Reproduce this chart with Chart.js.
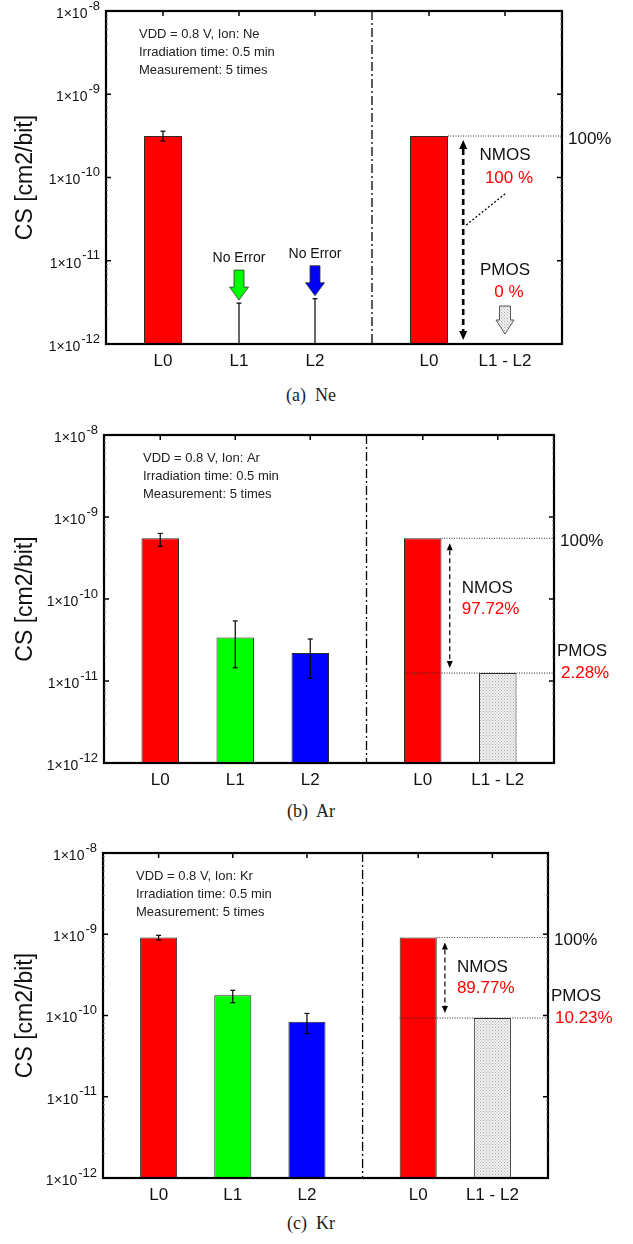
<!DOCTYPE html>
<html>
<head>
<title>CS per layer</title>
<script src="https://cdn.jsdelivr.net/npm/chart.js"></script>
<style>
  body { margin: 0; background: #fff; }
  .page { position: relative; width: 633px; height: 1244px; }
  canvas { position: absolute; left: 0; }
  .caption {
    position: absolute; left: 0; width: 622px; text-align: center;
    font-family: "Liberation Serif", serif; font-size: 18px; color: #222;
  }
</style>
</head>
<body>
<div class="page">
  <canvas id="chartNe" width="633" height="375" style="top:0px"></canvas>
  <div class="caption" style="top:385px">(a)&nbsp; Ne</div>
  <canvas id="chartAr" width="633" height="375" style="top:420px"></canvas>
  <div class="caption" style="top:801px">(b)&nbsp; Ar</div>
  <canvas id="chartKr" width="633" height="375" style="top:835px"></canvas>
  <div class="caption" style="top:1213px">(c)&nbsp; Kr</div>
</div>
<script>
// x positions of the bars, their labels, and the log axis ticks
const positions = [1, 2, 3, 4.5, 5.5];
const categories = ['L0', 'L1', 'L2', 'L0', 'L1 - L2'];
const yTicks = [1e-12, 1e-11, 1e-10, 1e-9, 1e-8];
const dividerAt = 3.75;

// Ne (null = no error observed)
const neValues  = [3.15e-10, null, null, 3.15e-10, null];
const neErrLow  = [2.75e-10, null, null, null, null];
const neErrHigh = [3.6e-10, 3.1e-12, 3.5e-12, null, null];

// Ar
const arValues  = [5.5e-10, 3.4e-11, 2.2e-11, 5.5e-10, 1.25e-11];
const arErrLow  = [4.4e-10, 1.45e-11, 1.08e-11, null, null];
const arErrHigh = [6.3e-10, 5.4e-11, 3.25e-11, null, null];

// Kr
const krValues  = [9.1e-10, 1.77e-10, 8.4e-11, 9.1e-10, 9.3e-11];
const krErrLow  = [8.5e-10, 1.44e-10, 6.0e-11, null, null];
const krErrHigh = [9.7e-10, 2.04e-10, 1.06e-10, null, null];

const ions = ['Ne', 'Ar', 'Kr'];
const nmosShare = ['100 %', '97.72%', '89.77%'];
const pmosShare = ['0 %', '2.28%', '10.23%'];

const FONT = '"Liberation Sans", Arial, sans-serif';

// light dotted fill for the PMOS bar
function dotPattern() {
  const c = document.createElement('canvas');
  c.width = 3; c.height = 3;
  const g = c.getContext('2d');
  g.fillStyle = '#f4f4f4';
  g.fillRect(0, 0, 3, 3);
  g.fillStyle = '#a8a8a8';
  g.fillRect(0, 0, 1, 1);
  g.fillRect(1.5, 1.5, 1, 1);
  return g.createPattern(c, 'repeat');
}
const dots = dotPattern();

function seg(ctx, x1, y1, x2, y2) {
  ctx.beginPath(); ctx.moveTo(x1, y1); ctx.lineTo(x2, y2); ctx.stroke();
}

function head(ctx, x, tipY, dir, w, len) {
  ctx.beginPath();
  ctx.moveTo(x, tipY);
  ctx.lineTo(x - w / 2, tipY - dir * len);
  ctx.lineTo(x + w / 2, tipY - dir * len);
  ctx.closePath();
  ctx.fill();
}

// block arrow pointing down
function blockArrow(ctx, x, top, tip, shaftW, headW, headLen, fill) {
  ctx.beginPath();
  ctx.moveTo(x - shaftW / 2, top);
  ctx.lineTo(x + shaftW / 2, top);
  ctx.lineTo(x + shaftW / 2, tip - headLen);
  ctx.lineTo(x + headW / 2, tip - headLen);
  ctx.lineTo(x, tip);
  ctx.lineTo(x - headW / 2, tip - headLen);
  ctx.lineTo(x - shaftW / 2, tip - headLen);
  ctx.closePath();
  ctx.fillStyle = fill;
  ctx.fill();
  ctx.strokeStyle = '#333';
  ctx.lineWidth = 0.8;
  ctx.setLineDash([]);
  ctx.stroke();
}

function doubleArrow(ctx, x, y1, y2, thick) {
  ctx.strokeStyle = '#000';
  ctx.fillStyle = '#000';
  ctx.lineWidth = thick ? 2.6 : 1.2;
  ctx.setLineDash(thick ? [6, 4] : [5, 3]);
  const hl = thick ? 9 : 7, hw = thick ? 8 : 6;
  seg(ctx, x, y1 + hl, x, y2 - hl);
  ctx.setLineDash([]);
  head(ctx, x, y1, -1, hw, hl);
  head(ctx, x, y2, 1, hw, hl);
}

function text(ctx, s, x, y, size, color, align) {
  ctx.font = size + 'px ' + FONT;
  ctx.fillStyle = color;
  ctx.textAlign = align || 'left';
  ctx.textBaseline = 'middle';
  ctx.fillText(s, x, y);
}

const decor = {
  id: 'decor',
  afterDatasetsDraw(chart, args, o) {
    const { ctx, chartArea: a, scales: { x, y } } = chart;
    const bars = chart.getDatasetMeta(0).data;
    ctx.save();

    // error bars
    o.errHigh.forEach((hi, i) => {
      if (hi == null) return;
      const px = x.getPixelForValue(positions[i]);
      const lo = o.errLow[i];
      const yh = y.getPixelForValue(hi);
      const yl = lo == null ? a.bottom : y.getPixelForValue(lo);
      ctx.strokeStyle = '#000';
      ctx.lineWidth = 1.2;
      ctx.setLineDash([]);
      seg(ctx, px, yl, px, yh);
      seg(ctx, px - 2.5, yh, px + 2.5, yh);
      if (lo != null) seg(ctx, px - 2.5, yl, px + 2.5, yl);
      if (o.values[i] == null) {
        // nothing measured: "No Error" arrow above the stem
        blockArrow(ctx, px, yh - 33, yh - 3, 10, 19, 13, o.noErrColors[i]);
        text(ctx, 'No Error', px, yh - 45, 14, '#111', 'center');
      }
    });

    // dash-dot divider
    const dx = x.getPixelForValue(dividerAt);
    ctx.strokeStyle = '#000';
    ctx.lineWidth = 1.3;
    ctx.setLineDash([9, 3, 2, 3]);
    seg(ctx, dx, a.top, dx, a.bottom);

    // right-hand share annotation
    const l0 = bars[3];
    const yL0 = y.getPixelForValue(o.values[3]);
    const half = l0.width / 2;
    ctx.lineWidth = 1;
    ctx.setLineDash([1, 1.5]);
    ctx.strokeStyle = '#333';
    seg(ctx, l0.x + half, yL0, a.right, yL0);
    text(ctx, '100%', a.right + 6, yL0 + 3, 17, '#111');
    const ax = x.getPixelForValue(o.arrowAt);

    if (o.values[4] != null) {
      const yP = y.getPixelForValue(o.values[4]);
      ctx.lineWidth = 1;
      ctx.setLineDash([1, 1.5]);
      ctx.strokeStyle = '#222';
      seg(ctx, l0.x - half, yP, a.right, yP);
      doubleArrow(ctx, ax, yL0 + 5, yP - 5, false);
      const mid = (yL0 + yP) / 2;
      text(ctx, 'NMOS', ax + 12, mid + o.nmosDy[0], 17, '#111');
      text(ctx, o.nmos, ax + 12, mid + o.nmosDy[1], 17, '#ff0000');
      text(ctx, 'PMOS', a.right + 3, yP - 22, 17, '#111');
      text(ctx, o.pmos, a.right + 7, yP, 17, '#ff0000');
    } else {
      doubleArrow(ctx, ax, yL0 + 4, a.bottom - 4, true);
      const cx = x.getPixelForValue(positions[4]);
      text(ctx, 'NMOS', cx, yL0 + 19, 17, '#111', 'center');
      text(ctx, o.nmos, cx + 4, yL0 + 42, 17, '#ff0000', 'center');
      ctx.strokeStyle = '#000';
      ctx.lineWidth = 1.2;
      ctx.setLineDash([2, 2]);
      seg(ctx, ax + 3, a.bottom - 119, cx + 1, a.bottom - 151);
      text(ctx, 'PMOS', cx, a.bottom - 74, 17, '#111', 'center');
      text(ctx, o.pmos, cx + 4, a.bottom - 52, 17, '#ff0000', 'center');
      blockArrow(ctx, cx, a.bottom - 38, a.bottom - 10, 11, 18, 14, dots);
    }

    // frame with inward ticks
    ctx.setLineDash([]);
    ctx.strokeStyle = '#000';
    ctx.lineWidth = 2.2;
    ctx.strokeRect(a.left, a.top, a.right - a.left, a.bottom - a.top);
    ctx.lineWidth = 1.5;
    yTicks.forEach(v => {
      const py = y.getPixelForValue(v);
      seg(ctx, a.left, py, a.left + 5, py);
      seg(ctx, a.right, py, a.right - 5, py);
    });
    ctx.lineWidth = 0.8;
    ctx.strokeStyle = '#777';
    for (let e = -12; e < -8; e++) {
      for (let m = 2; m < 10; m++) {
        const py = y.getPixelForValue(m * Math.pow(10, e));
        seg(ctx, a.left, py, a.left + 2, py);
        seg(ctx, a.right, py, a.right - 2, py);
      }
    }
    ctx.strokeStyle = '#000';
    ctx.lineWidth = 1.5;
    positions.forEach(p => {
      const px = x.getPixelForValue(p);
      seg(ctx, px, a.top, px, a.top + 5);
    });

    // tick labels 1x10^n
    yTicks.forEach(v => {
      const py = y.getPixelForValue(v);
      const ex = String(Math.round(Math.log10(v)));
      ctx.font = '13px ' + FONT;
      const ew = ctx.measureText(ex).width;
      const right = a.left - 6;
      text(ctx, ex, right - ew, py - 5, 13, '#111');
      text(ctx, '1\u00d710', right - ew - 1, py + 3, 14, '#111', 'right');
    });

    // category labels
    positions.forEach((p, i) => {
      text(ctx, categories[i], x.getPixelForValue(p), a.bottom + 17, 17, '#111', 'center');
    });

    // info block
    const info = ['VDD = 0.8 V, Ion: ' + o.ion, 'Irradiation time: 0.5 min', 'Measurement: 5 times'];
    info.forEach((s, i) => text(ctx, s, a.left + o.infoDx, a.top + 23 + i * 18, 13, '#222'));

    // y title
    ctx.translate(26, (a.top + a.bottom) / 2);
    ctx.rotate(-Math.PI / 2);
    text(ctx, 'CS [cm2/bit]', 0, 0, 23, '#111', 'center');
    ctx.restore();
  }
};

function makePanel(id, values, errLow, errHigh, idx, pad, extra) {
  const pts = positions.map((p, i) => ({ x: p, y: values[i] }));
  new Chart(document.getElementById(id), {
    type: 'bar',
    data: {
      datasets: [{
        data: pts,
        backgroundColor: ['#ff0000', '#00ff00', '#0000ff', '#ff0000', dots],
        borderColor: '#2a2a2a',
        borderWidth: 1,
        borderSkipped: 'bottom',
        categoryPercentage: 1,
        barPercentage: 0.5
      }]
    },
    options: {
      responsive: false,
      animation: false,
      layout: { padding: pad },
      plugins: {
        legend: { display: false },
        tooltip: { enabled: false },
        decor: Object.assign({
          values: values, errLow: errLow, errHigh: errHigh,
          ion: ions[idx], nmos: nmosShare[idx], pmos: pmosShare[idx]
        }, extra)
      },
      scales: {
        x: {
          type: 'linear', min: 0.25, max: 6.25, offset: false, display: false,
          // ticks only at the bar positions so the bar slot is one unit wide
          afterBuildTicks: s => { s.ticks = positions.map(v => ({ value: v })); }
        },
        y: { type: 'logarithmic', min: 1e-12, max: 1e-8, display: false }
      }
    },
    plugins: [decor]
  });
}

makePanel('chartNe', neValues, neErrLow, neErrHigh, 0,
  { left: 106, right: 71, top: 11, bottom: 31 },
  { arrowAt: 4.95, infoDx: 33, noErrColors: [null, '#00ff00', '#0000ff'] });
makePanel('chartAr', arValues, arErrLow, arErrHigh, 1,
  { left: 104, right: 79, top: 15, bottom: 32 },
  { arrowAt: 4.86, infoDx: 39, nmosDy: [-17, 4] });
makePanel('chartKr', krValues, krErrLow, krErrHigh, 2,
  { left: 103, right: 85, top: 18, bottom: 32 },
  { arrowAt: 4.86, infoDx: 33, nmosDy: [-11, 10] });
</script>
</body>
</html>
